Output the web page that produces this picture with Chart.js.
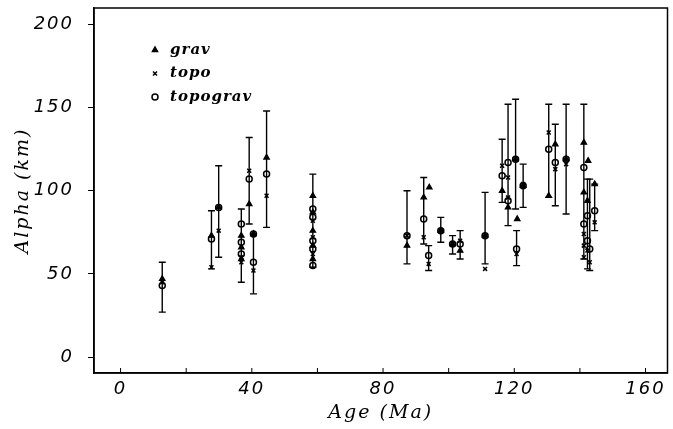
<!DOCTYPE html>
<html>
<head>
<meta charset="utf-8">
<script src="https://cdn.jsdelivr.net/npm/chart.js@4.4.1/dist/chart.umd.min.js"></script>
<style>
html,body{margin:0;padding:0;background:#fff;}
#wrap{position:relative;width:673px;height:429px;}
</style>
</head>
<body>
<div id="wrap"><canvas id="c" width="673" height="429"></canvas></div>
<script>
// ---- data ----
const barAge  = [12.7, 27.7, 29.9, 36.8, 39.2, 40.5, 44.5, 58.6, 87.3, 92.4, 93.9, 97.6, 101.2, 103.5, 111.1, 116.3, 118.1, 120.4, 120.7, 122.7, 130.5, 132.5, 135.8, 141.2, 142.3, 143.0, 144.5];
const barLow  = [27, 53, 60, 45, 80, 38, 78, 54, 56, 68, 52, 69, 62, 59, 56, 93, 79, 89, 55, 90, 96, 91, 86, 59, 53, 52, 76];
const barHigh = [57, 88, 115, 89, 132, 74, 148, 110, 100, 108, 67, 84, 73, 76, 99, 131, 152, 155, 76, 116, 152, 140, 152, 152, 107, 107, 104];

const gravAge   = [12.7, 27.7, 29.9, 36.8, 36.8, 36.8, 39.2, 40.5, 44.5, 58.6, 58.6, 58.6, 58.6, 58.6, 87.3, 92.4, 94.1, 97.6, 101.2, 103.5, 111.1, 116.3, 118.1, 120.4, 120.9, 122.7, 130.5, 132.5, 135.8, 141.2, 141.2, 142.5, 142.3, 144.5];
const gravAlpha = [47, 73, 90, 73, 66, 59, 92, 74, 120, 97, 87, 76, 67, 59, 67, 96, 102, 76, 68, 64, 73, 100, 90, 119, 83, 103, 97, 128, 119, 129, 99, 118, 94, 104];

const topoAge   = [12.7, 27.7, 29.9, 36.8, 36.8, 39.2, 40.5, 44.5, 58.6, 58.6, 58.6, 87.3, 92.4, 93.9, 97.6, 101.2, 103.5, 111.1, 116.3, 118.1, 118.1, 120.4, 120.7, 122.7, 130.5, 132.5, 135.8, 141.2, 141.2, 141.2, 142.3, 143.0, 144.5];
const topoAlpha = [45, 54, 76, 60, 57, 112, 52, 97, 82, 72, 62, 73, 72, 56, 76, 68, 70, 53, 115, 108, 96, 119, 62, 104, 135, 113, 116, 74, 67, 60, 64, 57, 81];

const tgAge   = [12.7, 27.7, 29.9, 36.8, 36.8, 36.8, 39.2, 40.5, 40.5, 44.5, 58.6, 58.6, 58.6, 58.6, 58.6, 87.3, 92.4, 93.9, 97.6, 101.2, 103.5, 111.1, 116.3, 118.1, 118.1, 120.4, 120.7, 122.7, 130.5, 132.5, 135.8, 141.2, 141.2, 142.3, 142.3, 143.0, 144.5];
const tgAlpha = [43, 71, 90, 80, 69, 62, 107, 57, 74, 110, 89, 84, 70, 65, 55, 73, 83, 61, 76, 68, 68, 73, 109, 117, 94, 119, 65, 103, 125, 117, 119, 114, 80, 85, 70, 65, 88];

const xTicks = [0, 40, 80, 120, 160];
const yTicks = [0, 50, 100, 150, 200];
const seriesNames = ['grav', 'topo', 'topograv'];

// ---- build library data ----
const pts = (xs, ys) => xs.map((x, i) => ({x: x, y: ys[i]}));
const barPts = [];
barAge.forEach((a, i) => {
  barPts.push({x: a, y: barLow[i]});
  barPts.push({x: a, y: barHigh[i]});
  barPts.push({x: a, y: null});
});

const tickFont = {family: 'DejaVu Sans', style: 'italic', size: 18};
const titleFont = {family: 'DejaVu Serif', style: 'italic', size: 19};

const framePlugin = {
  id: 'frame',
  beforeDraw(chart) {
    chart.ctx.letterSpacing = '2px';
  },
  afterDatasetsDraw(chart) {
    const {ctx, chartArea: a, scales} = chart;
    ctx.save();
    ctx.strokeStyle = '#000';
    ctx.lineWidth = 1.5;
    ctx.strokeRect(a.left, a.top, a.right - a.left, a.bottom - a.top);
    // inward ticks on x axis
    ctx.lineWidth = 1;
    scales.x.ticks.forEach(t => {
      const px = scales.x.getPixelForValue(t.value);
      ctx.beginPath();
      ctx.moveTo(px, a.bottom);
      ctx.lineTo(px, a.bottom - 5);
      ctx.stroke();
    });
    // legend
    const lx = a.left + 61, ly0 = a.top + 42, dy = 23.5;
    [1, 2, 3].forEach((di, k) => {
      const ds = chart.data.datasets[di];
      const y = ly0 + k * dy;
      ctx.fillStyle = ds.pointBackgroundColor;
      ctx.strokeStyle = '#000';
      ctx.lineWidth = ds.pointBorderWidth;
      Chart.helpers.drawPoint(ctx, {
        pointStyle: ds.pointStyle, radius: ds.pointRadius, rotation: 0,
        borderWidth: ds.pointBorderWidth
      }, lx, y);
      ctx.letterSpacing = '1px';
      ctx.font = 'italic bold 15px "DejaVu Serif"';
      ctx.textBaseline = 'middle';
      ctx.textAlign = 'left';
      ctx.fillStyle = '#000';
      ctx.fillText(seriesNames[k], lx + 15, y);
    });
    ctx.restore();
  }
};

new Chart(document.getElementById('c'), {
  type: 'scatter',
  data: {
    datasets: [
      {
        type: 'line', label: 'bars', data: barPts, showLine: true, spanGaps: false,
        borderColor: '#000', borderWidth: 1.4, pointStyle: 'line', pointRadius: 3.5,
        pointBorderWidth: 1.4, pointBorderColor: '#000', fill: false
      },
      {
        label: seriesNames[0], data: pts(gravAge, gravAlpha), pointStyle: 'triangle',
        pointRadius: 3.2, pointBackgroundColor: '#000', pointBorderColor: '#000', pointBorderWidth: 1.2
      },
      {
        label: seriesNames[1], data: pts(topoAge, topoAlpha), pointStyle: 'crossRot',
        pointRadius: 2.8, pointBackgroundColor: '#000', pointBorderColor: '#000', pointBorderWidth: 1.5
      },
      {
        label: seriesNames[2], data: pts(tgAge, tgAlpha), pointStyle: 'circle',
        pointRadius: 3, pointBackgroundColor: '#fff', pointBorderColor: '#000', pointBorderWidth: 1.5
      }
    ]
  },
  options: {
    responsive: false,
    animation: false,
    events: [],
    layout: {padding: {top: 8, right: 3, left: 0, bottom: 0}},
    plugins: {legend: {display: false}, tooltip: {enabled: false}},
    scales: {
      x: {
        type: 'linear', min: -8.1, max: 166.7,
        afterFit(s) { s.height = 56; s.paddingLeft = 0; s.paddingRight = 0; },
        border: {display: true, color: '#000', width: 1.5},
        grid: {display: false},
        ticks: {
          stepSize: 20, includeBounds: false, color: '#000', font: tickFont, padding: -2,
          maxRotation: 0, autoSkip: false,
          callback: v => xTicks.includes(v) ? String(v) : ''
        },
        title: {display: true, text: 'Age (Ma)', color: '#000', font: titleFont, padding: {top: 0, bottom: 5}}
      },
      y: {
        type: 'linear', min: -9.6, max: 209.9,
        afterFit(s) { s.width = 94; s.paddingTop = 0; s.paddingBottom = 0; },
        border: {display: true, color: '#000', width: 1.5},
        grid: {display: true, drawOnChartArea: false, drawTicks: true, tickLength: 6, color: '#000', tickColor: '#000'},
        afterBuildTicks(s) { s.ticks = yTicks.map(v => ({value: v})); },
        ticks: {color: '#000', font: tickFont, padding: 14, callback: v => String(v)},
        title: {display: true, text: 'Alpha (km)', color: '#000', font: titleFont, padding: {top: 12, bottom: 0}}
      }
    }
  },
  plugins: [framePlugin]
});
</script>
</body>
</html>
